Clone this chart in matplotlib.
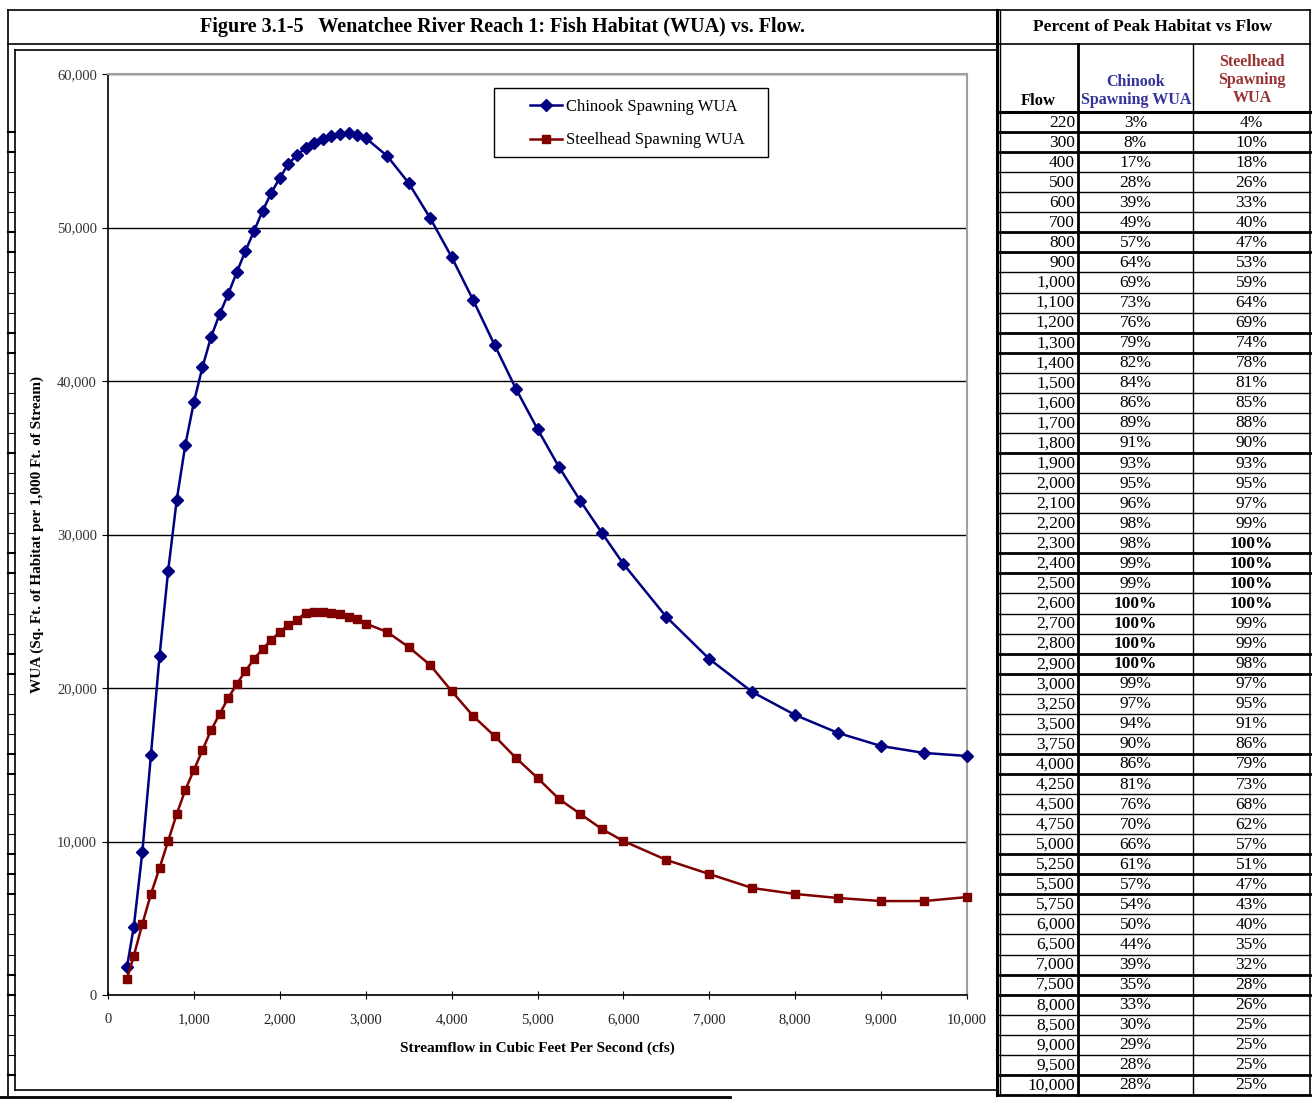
import matplotlib
matplotlib.use("Agg")
import matplotlib.pyplot as plt
from matplotlib.lines import Line2D
from matplotlib.patches import Rectangle
from matplotlib.ticker import FuncFormatter, MultipleLocator

plt.rcParams['font.family'] = ['Liberation Serif', 'DejaVu Serif']

# ---------------- data ----------------
flows = [220, 300, 400, 500, 600, 700, 800, 900, 1000, 1100, 1200, 1300, 1400,
         1500, 1600, 1700, 1800, 1900, 2000, 2100, 2200, 2300, 2400, 2500, 2600,
         2700, 2800, 2900, 3000, 3250, 3500, 3750, 4000, 4250, 4500, 4750, 5000,
         5250, 5500, 5750, 6000, 6500, 7000, 7500, 8000, 8500, 9000, 9500, 10000]

chinook_wua = [1800, 4430, 9320, 15640, 22090, 27620, 32250, 35830, 38630, 40910,
               42870, 44370, 45670, 47100, 48470, 49770, 51080, 52250, 53230, 54140,
               54720, 55180, 55500, 55770, 55960, 56090, 56160, 56030, 55830, 54660,
               52900, 50620, 48080, 45280, 42350, 39480, 36870, 34400, 32180, 30100,
               28080, 24630, 21890, 19740, 18240, 17070, 16220, 15770, 15570]

steelhead_wua = [1040, 2540, 4630, 6580, 8270, 10030, 11790, 13360, 14660, 15960,
                 17260, 18310, 19350, 20260, 21110, 21890, 22540, 23130, 23650, 24100,
                 24430, 24900, 24950, 24950, 24900, 24800, 24650, 24500, 24200, 23650,
                 22670, 21500, 19800, 18180, 16870, 15440, 14140, 12770, 11790, 10810,
                 10030, 8800, 7880, 6970, 6580, 6320, 6120, 6120, 6380]

table_flow = ["220", "300", "400", "500", "600", "700", "800", "900", "1,000", "1,100",
              "1,200", "1,300", "1,400", "1,500", "1,600", "1,700", "1,800", "1,900",
              "2,000", "2,100", "2,200", "2,300", "2,400", "2,500", "2,600", "2,700",
              "2,800", "2,900", "3,000", "3,250", "3,500", "3,750", "4,000", "4,250",
              "4,500", "4,750", "5,000", "5,250", "5,500", "5,750", "6,000", "6,500",
              "7,000", "7,500", "8,000", "8,500", "9,000", "9,500", "10,000"]
chinook_pct = [3, 8, 17, 28, 39, 49, 57, 64, 69, 73, 76, 79, 82, 84, 86, 89, 91, 93,
               95, 96, 98, 98, 99, 99, 100, 100, 100, 100, 99, 97, 94, 90, 86, 81, 76,
               70, 66, 61, 57, 54, 50, 44, 39, 35, 33, 30, 29, 28, 28]
steelhead_pct = [4, 10, 18, 26, 33, 40, 47, 53, 59, 64, 69, 74, 78, 81, 85, 88, 90, 93,
                 95, 97, 99, 100, 100, 100, 100, 99, 99, 98, 97, 95, 91, 86, 79, 73, 68,
                 62, 57, 51, 47, 43, 40, 35, 32, 28, 26, 25, 25, 25, 25]

title = "Figure 3.1-5   Wenatchee River Reach 1: Fish Habitat (WUA) vs. Flow."
table_title = "Percent of Peak Habitat vs Flow"

CH_COLOR = '#000080'
ST_COLOR = '#800000'

W, H = 1316, 1100
fig = plt.figure(figsize=(W / 100, H / 100), dpi=100)
fig.patch.set_facecolor('white')

# overlay in pixel coordinates for frames and table
ov = fig.add_axes([0, 0, 1, 1], zorder=0)
ov.set_xlim(0, W)
ov.set_ylim(H, 0)
ov.axis('off')

def hline(y, x0, x1, lw=1.0, c='black'):
    ov.add_line(Line2D([x0, x1], [y, y], lw=lw, color=c))

def vline(x, y0, y1, lw=1.0, c='black'):
    ov.add_line(Line2D([x, x], [y0, y1], lw=lw, color=c))

# title box
hline(10, 8, 997, 1.2)
hline(44, 8, 997, 1.2)
vline(8, 10, 1097, 1.2)
ov.text(503, 27, title, ha='center', va='center', fontsize=14.5, fontweight='bold')

# chart box
hline(50, 15, 997, 1.2)
hline(1090, 15, 997, 1.2)
vline(15, 50, 1090, 1.2)
hline(1097, 0, 730, 2.0)

# table geometry
row_top = 112.0
row_h = 20.06
n = len(table_flow)
tbl_bottom = row_top + n * row_h
x_l, x_c1, x_c2, x_r = 997, 1078, 1193, 1310

vline(x_l, 10, tbl_bottom, 2.2)
vline(x_l + 3, 10, tbl_bottom, 1.0)
vline(x_r, 10, tbl_bottom, 1.2)
hline(10, x_l, x_r, 1.2)
hline(44, x_l, x_r, 1.2)
vline(x_c1, 44, tbl_bottom, 2.0)
vline(x_c2, 44, tbl_bottom, 1.0)
hline(tbl_bottom, x_l, x_r, 2.0)
hline(row_top, x_l, x_r, 2.2)

thick_rows = {1, 2, 6, 7, 11, 12, 17, 22, 23, 27, 28, 32, 33, 37, 38, 39, 43, 44, 48}
for i in range(1, n):
    y = row_top + i * row_h
    hline(y, x_l, x_r, 2.0 if i in thick_rows else 1.0)
    hline(y, 8, 15, 1.5 if i in thick_rows else 0.8)

ov.text(1153, 27, table_title, ha='center', va='center', fontsize=12.5, fontweight='bold')
ov.text(1038, 101, "Flow", ha='center', va='center', fontsize=12, fontweight='bold')
ov.text(1136, 91, "Chinook\nSpawning WUA", ha='center', va='center', fontsize=11.5,
        fontweight='bold', color='#333399', linespacing=1.15)
ov.text(1252, 80, "Steelhead\nSpawning\nWUA", ha='center', va='center', fontsize=11.5,
        fontweight='bold', color='#993333', linespacing=1.15)

for i in range(n):
    yc = row_top + (i + 0.5) * row_h + 0.5
    ov.text(x_c1 - 3, yc, table_flow[i], ha='right', va='center', fontsize=12.5)
    cw = 'bold' if chinook_pct[i] == 100 else 'normal'
    sw = 'bold' if steelhead_pct[i] == 100 else 'normal'
    ov.text((x_c1 + x_c2) / 2, yc, f"{chinook_pct[i]}%", ha='center', va='center',
            fontsize=12.5, fontweight=cw)
    ov.text((x_c2 + x_r) / 2, yc, f"{steelhead_pct[i]}%", ha='center', va='center',
            fontsize=12.5, fontweight=sw)

# ---------------- chart ----------------
ax = fig.add_axes([108 / W, 1 - 995 / H, (967 - 108) / W, (995 - 74) / H], zorder=2)
ax.set_xlim(0, 10000)
ax.set_ylim(0, 60000)
ax.yaxis.set_major_locator(MultipleLocator(10000))
ax.xaxis.set_major_locator(MultipleLocator(1000))
fmt = FuncFormatter(lambda v, p: f"{int(v):,}")
ax.xaxis.set_major_formatter(fmt)
ax.yaxis.set_major_formatter(fmt)
ax.grid(axis='y', color='black', lw=1.0)
ax.set_axisbelow(True)
for s in ['top', 'right']:
    ax.spines[s].set_color('#a0a0a0')
    ax.spines[s].set_linewidth(1.5)
for s in ['left', 'bottom']:
    ax.spines[s].set_color('black')
    ax.spines[s].set_linewidth(1.2)
ax.tick_params(axis='y', direction='out', length=4, labelsize=10.5, pad=4,
               labelcolor='#333333')
ax.tick_params(axis='x', direction='inout', length=6, labelsize=10.5, pad=10,
               labelcolor='#222222')

ax.plot(flows, chinook_wua, color=CH_COLOR, lw=1.8, marker='D', markersize=5.8,
        label='Chinook Spawning WUA', clip_on=False, zorder=3)
ax.plot(flows, steelhead_wua, color=ST_COLOR, lw=1.8, marker='s', markersize=5.8,
        label='Steelhead Spawning WUA', clip_on=False, zorder=3)

ax.set_xlabel("Streamflow in Cubic Feet Per Second (cfs)", fontsize=11, fontweight='bold')
ax.xaxis.set_label_coords(0.5, -0.05)
ax.set_ylabel("WUA (Sq. Ft. of Habitat per 1,000 Ft. of Stream)", fontsize=11,
              fontweight='bold')
ax.yaxis.set_label_coords(-0.0745, 0.5)

# legend: frame drawn separately to match its proportions
ax.add_patch(Rectangle((494, 88), 768 - 494, 157 - 88, transform=ov.transData,
                       facecolor='white', edgecolor='black', lw=1.0, zorder=4,
                       clip_on=False))
leg = ax.legend(loc='upper left', bbox_to_anchor=((530 - 108) / 859, (995 - 99) / 921),
                borderaxespad=0, borderpad=0, fontsize=12, frameon=False,
                handlelength=1.9, labelspacing=1.04, handletextpad=0.25)
leg.set_zorder(5)

fig.savefig("out.png", dpi=100, facecolor='white')
